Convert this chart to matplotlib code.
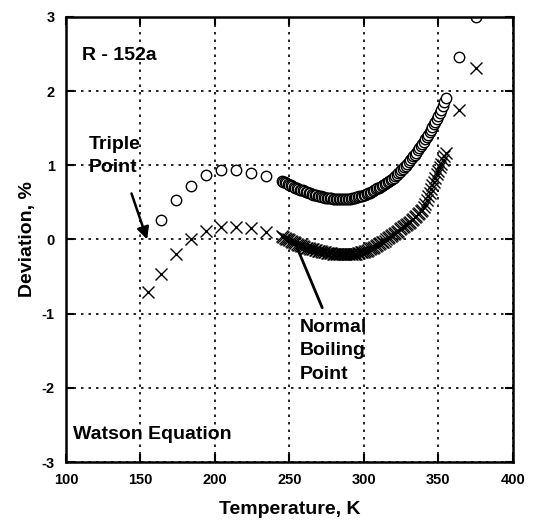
import matplotlib
matplotlib.use("Agg")
import matplotlib.pyplot as plt

plt.rcParams['font.family'] = ['Liberation Sans', 'DejaVu Sans']
plt.rcParams['axes.unicode_minus'] = False

# sparse points (low temperature)
circ_t_lo = [164, 174, 184, 194, 204, 214, 224, 234.5]
circ_d_lo = [0.26, 0.53, 0.72, 0.87, 0.93, 0.93, 0.89, 0.85]
cross_t_lo = [155, 164, 174, 184, 194, 204, 214, 224, 234.5]
cross_d_lo = [-0.71, -0.46, -0.2, 0.0, 0.12, 0.17, 0.17, 0.15, 0.1]

# dense points, one per kelvin from 245 to 355 K
dense_t = list(range(245, 356))
circ_d = [0.79, 0.78, 0.77, 0.76, 0.75, 0.74, 0.73, 0.72, 0.71, 0.70,
          0.69, 0.68, 0.67, 0.665, 0.66, 0.65, 0.64, 0.635, 0.63, 0.62,
          0.61, 0.605, 0.60, 0.595, 0.59, 0.585, 0.58, 0.575, 0.57, 0.565,
          0.56, 0.56, 0.56, 0.555, 0.55, 0.55, 0.55, 0.55, 0.55, 0.545,
          0.54, 0.54, 0.54, 0.545, 0.55, 0.55, 0.55, 0.555, 0.56, 0.565,
          0.57, 0.575, 0.58, 0.585, 0.59, 0.595, 0.60, 0.61, 0.62, 0.63,
          0.64, 0.65, 0.66, 0.675, 0.69, 0.70, 0.71, 0.725, 0.74, 0.75,
          0.76, 0.775, 0.79, 0.80, 0.81, 0.83, 0.85, 0.87, 0.89, 0.91,
          0.93, 0.95, 0.97, 0.995, 1.02, 1.045, 1.07, 1.095, 1.12, 1.145,
          1.17, 1.20, 1.23, 1.26, 1.29, 1.32, 1.35, 1.38, 1.41, 1.445,
          1.48, 1.515, 1.55, 1.585, 1.62, 1.66, 1.70, 1.75, 1.80, 1.855,
          1.91]
cross_d = [0.04, 0.03, 0.02, 0.01, 0.00, -0.01, -0.02, -0.03, -0.04, -0.05,
           -0.06, -0.07, -0.08, -0.085, -0.09, -0.10, -0.11, -0.115, -0.12, -0.125,
           -0.13, -0.135, -0.14, -0.145, -0.15, -0.155, -0.16, -0.165, -0.17, -0.175,
           -0.18, -0.18, -0.18, -0.185, -0.19, -0.19, -0.19, -0.195, -0.20, -0.20,
           -0.20, -0.20, -0.20, -0.20, -0.20, -0.20, -0.20, -0.195, -0.19, -0.19,
           -0.19, -0.185, -0.18, -0.175, -0.17, -0.165, -0.16, -0.15, -0.14, -0.13,
           -0.12, -0.11, -0.10, -0.09, -0.08, -0.065, -0.05, -0.04, -0.03, -0.015,
           0.00, 0.015, 0.03, 0.045, 0.06, 0.075, 0.09, 0.105, 0.12, 0.135,
           0.15, 0.165, 0.18, 0.195, 0.21, 0.225, 0.24, 0.26, 0.28, 0.30,
           0.32, 0.34, 0.36, 0.38, 0.40, 0.44, 0.48, 0.53, 0.58, 0.63,
           0.68, 0.73, 0.78, 0.83, 0.88, 0.925, 0.97, 1.02, 1.07, 1.12,
           1.17]

# sparse points (high temperature)
circ_t_hi = [364, 375]
circ_d_hi = [2.46, 3.0]
cross_t_hi = [364, 375]
cross_d_hi = [1.74, 2.31]

x_ticks = [100, 150, 200, 250, 300, 350, 400]
y_ticks = [-3, -2, -1, 0, 1, 2, 3]

fig = plt.figure(figsize=(5.36, 5.2), dpi=100)
ax = fig.add_axes([0.123, 0.1115, 0.834, 0.856])

circ_kw = dict(ls='none', marker='o', ms=7.5, mfc='white', mec='black', mew=1.0)
cross_kw = dict(ls='none', marker='x', ms=8, color='black', mew=1.0)

ax.plot(circ_t_lo + dense_t + circ_t_hi, circ_d_lo + circ_d + circ_d_hi, **circ_kw)
ax.plot(cross_t_lo + dense_t + cross_t_hi, cross_d_lo + cross_d + cross_d_hi, **cross_kw)

ax.set_xlim(100, 400)
ax.set_ylim(-3, 3)
ax.set_xticks(x_ticks)
ax.set_yticks(y_ticks)
ax.grid(True, ls=(0, (1.5, 3)), color='black', lw=1.2)
ax.tick_params(direction='in', length=6, width=1.5, top=True, right=True,
               labelsize=10.5, pad=8)
for lab in ax.get_xticklabels() + ax.get_yticklabels():
    lab.set_fontweight('bold')
for sp in ax.spines.values():
    sp.set_linewidth(1.8)

ax.set_xlabel('Temperature, K', fontsize=14, fontweight='bold', labelpad=10)
ax.set_ylabel('Deviation, %', fontsize=14, fontweight='bold', labelpad=4)

txt = dict(fontsize=14, fontweight='bold', va='top', ha='left', linespacing=1.5)
ax.text(110.7, 2.60, 'R - 152a', **txt)
ax.text(115.4, 1.40, 'Triple\nPoint', **txt)
ax.text(256.6, -1.07, 'Normal\nBoiling\nPoint', **txt)
ax.text(104.7, -2.52, 'Watson Equation', **txt)

ax.annotate('', xy=(154.5, 0.0), xytext=(144, 0.62),
            arrowprops=dict(arrowstyle='-|>', color='black', lw=1.8,
                            mutation_scale=18, shrinkA=0, shrinkB=0))
ax.annotate('', xy=(254.5, -0.08), xytext=(272, -0.92),
            arrowprops=dict(arrowstyle='-', color='black', lw=2,
                            shrinkA=0, shrinkB=0))

fig.savefig('out.png', dpi=100)
